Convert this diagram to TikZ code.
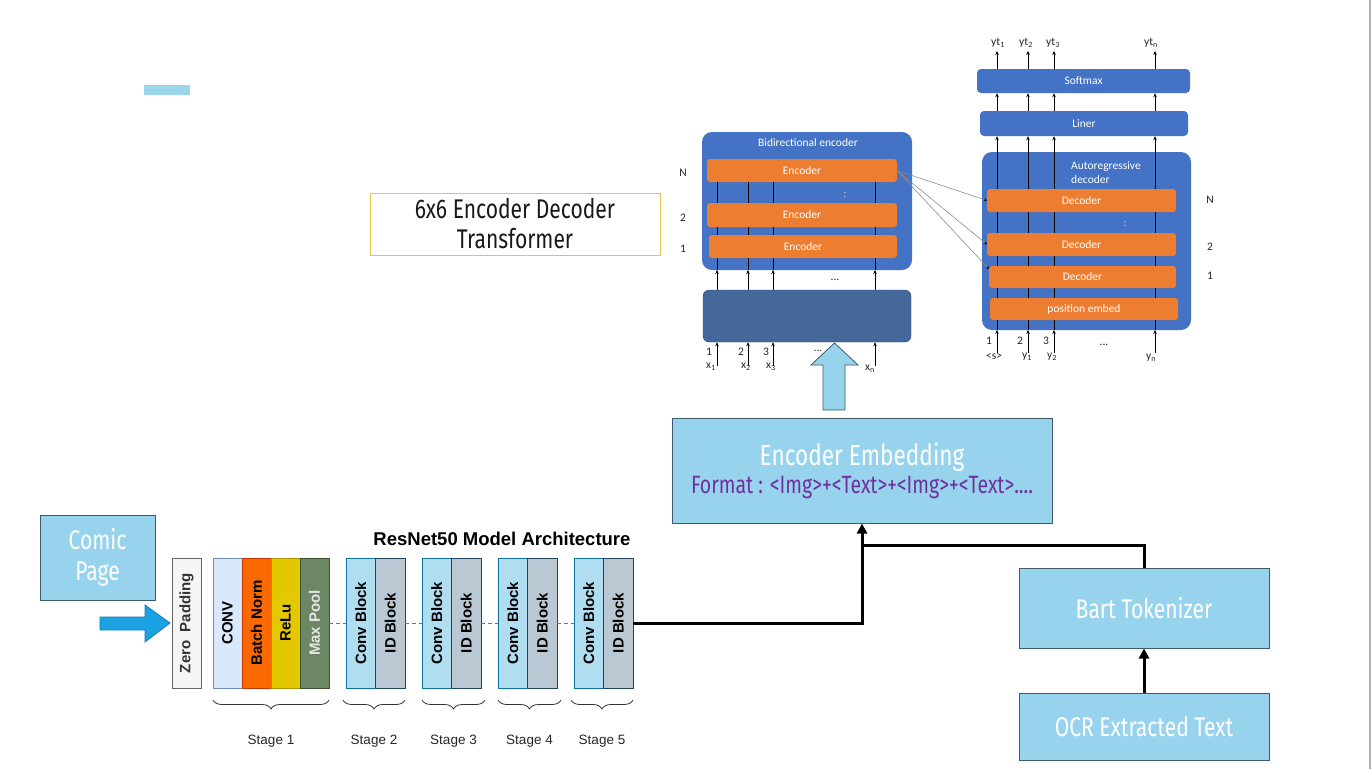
\documentclass[tikz,border=0pt]{standalone}
\usepackage{fontspec}
\usepackage{graphicx}
\setmainfont{Liberation Sans}
\newfontfamily\slidefont[FakeStretch=0.78]{Fira Sans}
\newfontfamily\calfont{Carlito}
\usetikzlibrary{positioning,arrows.meta,decorations.pathreplacing}
\pgfdeclarelayer{bg}
\pgfdeclarelayer{mid}
\pgfsetlayers{bg,mid,main}
\definecolor{skyfill}{HTML}{97D3EC}
\definecolor{skyedge}{HTML}{3E5B6B}
\definecolor{barblue}{HTML}{9BD5EC}
\definecolor{goldedge}{HTML}{E3C54A}
\definecolor{fmtpurple}{HTML}{7030A0}
\definecolor{inblue}{HTML}{1BA1E2}
\definecolor{inedge}{HTML}{157FBC}
\definecolor{convfill}{HTML}{DAE8FC}
\definecolor{convedge}{HTML}{6C8EBF}
\definecolor{bnfill}{HTML}{FA6800}
\definecolor{bnedge}{HTML}{C73500}
\definecolor{relufill}{HTML}{E3C800}
\definecolor{reluedge}{HTML}{B09500}
\definecolor{mpfill}{HTML}{6D8764}
\definecolor{mpedge}{HTML}{3A5431}
\definecolor{cbfill}{HTML}{B1DDF0}
\definecolor{cbedge}{HTML}{10739E}
\definecolor{ibfill}{HTML}{BAC8D3}
\definecolor{ibedge}{HTML}{23445D}
\definecolor{zpfill}{HTML}{F5F5F5}
\definecolor{zpedge}{HTML}{666666}
\definecolor{tblue}{HTML}{4472C4}
\definecolor{torange}{HTML}{ED7D31}
\definecolor{tdark}{HTML}{44689A}
\begin{document}
\begin{tikzpicture}[x=1pt,y=-1pt,
  slidebox/.style={draw=skyedge, fill=skyfill, line width=1pt, inner sep=0pt, text=white, align=center, font=\slidefont\fontsize{27}{31}\selectfont},
  rnbox/.style={draw, line width=0.8pt, inner sep=0pt, outer sep=0pt, minimum width=29pt, minimum height=130pt, font=\bfseries\fontsize{15}{15}\selectfont},
  blk/.style={rnbox, minimum width=29.5pt},
  conn/.style={line width=3pt, -{Triangle[length=10pt,width=10pt]}},
  gapline/.style={draw=black!55, line width=1pt, dash pattern=on 4pt off 3pt},
  stagebrace/.style={decorate, decoration={brace, mirror, amplitude=9pt}, line width=0.8pt, draw=black!80},
  stagelab/.style={below=35pt, inner sep=0pt, font=\fontsize{13.5}{14}\selectfont, text=black!85},
  tblk/.style={fill=tblue, rounded corners=10pt, inner sep=0pt, outer sep=0pt},
  tbar/.style={fill=torange, rounded corners=3pt, inner sep=0pt, outer sep=0pt, text=white, font=\calfont\fontsize{11.5}{12}\selectfont},
  tlab/.style={inner sep=0pt, font=\calfont\fontsize{11.5}{12}\selectfont, text=black!85},
  tarr/.style={line width=0.9pt, -{Stealth[length=4pt,width=3.5pt]}}
]
\useasboundingbox (0,0) rectangle (1372,769);
\begin{pgfonlayer}{bg}
\fill[white] (0,0) rectangle (1372,769);
\end{pgfonlayer}
\draw[black!30, line width=1.5pt] (1370,0) -- (1370,769);

\node[fill=barblue, minimum width=46pt, minimum height=10pt, inner sep=0pt] (bar) at (167,90) {};
\node[draw=goldedge, line width=1pt, minimum width=290pt, minimum height=62pt, inner sep=0pt, align=center, font=\slidefont\fontsize{27}{30}\selectfont, text=black!90] (ttbox) at (515,224) {6x6 Encoder Decoder\\Transformer};

% transformer
\begin{pgfonlayer}{bg}
\node[tblk, minimum width=210pt, minimum height=138pt] (encblk) at (807,201) {};
\node[tblk, minimum width=209pt, minimum height=178pt] (decblk) at (1086.5,241) {};
\end{pgfonlayer}
\node[tlab, text=white] (enctitle) at (808,143) {Bidirectional encoder};
\node[tbar, minimum width=190pt, minimum height=23pt] (encN) at (802,170.5) {Encoder};
\node[tbar, minimum width=190pt, minimum height=24pt] (enc2) at (802,215) {Encoder};
\node[tbar, minimum width=188pt, minimum height=23pt] (enc1) at (803,246.5) {Encoder};
\node[tlab, text=white!60!tblue] (enccolon) at (845,195) {:};
\node[draw=tdark!70!black, fill=tdark, rounded corners=6pt, minimum width=208pt, minimum height=52pt, inner sep=0pt] (dark) at (807,316) {};
\node[tlab] (encdots) at (835,280) {...};
\node[tlab] (lN) at (683,173) {N};
\node[tlab] (l2) at (683,218) {2};
\node[tlab] (l1) at (683,249) {1};
\node[tlab] (i1) at (709,352) {1};
\node[tlab] (i2) at (741,352) {2};
\node[tlab] (i3) at (766,352) {3};
\node[tlab] (idots) at (818,351) {...};
\node[tlab] (x1) at (711,367) {x\textsubscript{1}};
\node[tlab] (x2) at (746,367) {x\textsubscript{2}};
\node[tlab] (x3) at (771,367) {x\textsubscript{3}};
\node[tlab] (xn) at (870,369) {x\textsubscript{n}};

\node[tlab, text=white, anchor=west, align=left, font=\calfont\fontsize{11.5}{14}\selectfont] (dectitle) at (1071,173) {Autoregressive\\decoder};
\node[fill=tblue, rounded corners=4pt, minimum width=213pt, minimum height=24pt, inner sep=0pt, text=white, font=\calfont\fontsize{11.5}{12}\selectfont] (softmax) at (1083.5,81) {Softmax};
\node[fill=tblue, rounded corners=4pt, minimum width=208pt, minimum height=25pt, inner sep=0pt, text=white, font=\calfont\fontsize{11.5}{12}\selectfont] (liner) at (1084,123.5) {Liner};
\node[tbar, minimum width=189pt, minimum height=23pt] (decN) at (1081.5,200.5) {Decoder};
\node[tbar, minimum width=189pt, minimum height=23pt] (dec2) at (1081.5,244.5) {Decoder};
\node[tbar, minimum width=187pt, minimum height=22pt] (dec1) at (1082.5,277) {Decoder};
\node[tbar, minimum width=188pt, minimum height=22pt] (posemb) at (1084,309) {position embed};
\node[tlab, text=white!60!tblue] (deccolon) at (1125,224) {:};
\node[tlab] (rN) at (1210,200) {N};
\node[tlab] (r2) at (1210,247) {2};
\node[tlab] (r1) at (1210,276) {1};
\node[tlab] (j1) at (989,341) {1};
\node[tlab] (j2) at (1020,341) {2};
\node[tlab] (j3) at (1046,341) {3};
\node[tlab] (jdots) at (1104,345) {...};
\node[tlab] (ys) at (994,357) {<s>};
\node[tlab] (y1) at (1027,357) {y\textsubscript{1}};
\node[tlab] (y2) at (1052,357) {y\textsubscript{2}};
\node[tlab] (yn) at (1151,358) {y\textsubscript{n}};
\node[tlab] (yt1) at (998,43) {yt\textsubscript{1}};
\node[tlab] (yt2) at (1026,43) {yt\textsubscript{2}};
\node[tlab] (yt3) at (1053,43) {yt\textsubscript{3}};
\node[tlab] (ytn) at (1151,43) {yt\textsubscript{n}};

\coordinate (e1) at (717,366);
\coordinate (e2) at (748,366);
\coordinate (e3) at (773,366);
\coordinate (e4) at (875,366);
\coordinate (d1) at (997,353);
\coordinate (d2) at (1028,353);
\coordinate (d3) at (1054,353);
\coordinate (d4) at (1155,353);
\coordinate (o1) at (997,51);
\coordinate (o2) at (1028,51);
\coordinate (o3) at (1054,51);
\coordinate (o4) at (1155,51);

\begin{pgfonlayer}{mid}
\foreach \c in {e1,e2,e3,e4}{
  \draw[tarr] (\c) -- (\c |- dark.south);
  \draw[tarr] (\c |- dark.north) -- (\c |- encblk.south);
  \draw[line width=0.9pt] (\c |- encblk.south) -- (\c |- encN.south);
}
\foreach \c/\o in {d1/o1,d2/o2,d3/o3,d4/o4}{
  \draw[tarr] (\c) -- (\c |- decblk.south);
  \draw[line width=0.9pt] (\c |- decblk.south) -- (\c |- decN.south);
  \draw[tarr] (\c |- decN.north) -- (\c |- liner.south);
  \draw[tarr] (\c |- liner.north) -- (\c |- softmax.south);
  \draw[tarr] (\c |- softmax.north) -- (\o);
}
\end{pgfonlayer}
\draw[black!45, line width=0.6pt, -{Stealth[length=3pt,width=3pt,black]}] (encN.east) -- (decN.west);
\draw[black!45, line width=0.6pt, -{Stealth[length=3pt,width=3pt,black]}] (encN.east) -- (dec2.west);
\draw[black!45, line width=0.6pt, -{Stealth[length=3pt,width=3pt,black]}] (encN.east) -- ([yshift=-3pt]dec1.north west);

% embedding
\node[slidebox, minimum width=380pt, minimum height=105pt] (emb) at (862,470.5) {{\fontsize{29}{31}\selectfont Encoder Embedding}\\[-3pt]{\fontsize{25}{26}\selectfont\color{fmtpurple}Format : <Img>+<Text>+<Img>+<Text>....}};
\draw[skyedge, fill=skyfill, line width=0.8pt] (823,410) -- (823,365) -- (811,365) -- (834.5,343) -- (858,365) -- (845,365) -- (845,410) -- cycle;

% resnet
\node[slidebox, minimum width=115pt, minimum height=85pt] (comic) at (97.5,557.5) {Comic\\Page};
\draw[inedge, fill=inblue, line width=0.8pt] (100,617) -- (145,617) -- (145,605) -- (170,623) -- (145,642) -- (145,630) -- (100,630) -- cycle;
\node[font=\bfseries\fontsize{18.5}{20}\selectfont, inner sep=0pt] (rntitle) at (502,539) {ResNet50 Model Architecture};
\node[rnbox, fill=zpfill, draw=zpedge, text=black!80] (zero) at (186.5,623) {\rotatebox{90}{Zero\ \ Padding}};
\node[rnbox, fill=convfill, draw=convedge] (conv1) at (227.5,623) {\rotatebox{90}{CONV}};
\node[rnbox, fill=bnfill, draw=bnedge, right=0pt of conv1] (bn) {\rotatebox{90}{Batch Norm}};
\node[rnbox, fill=relufill, draw=reluedge, right=0pt of bn] (relu) {\rotatebox{90}{ReLu}};
\node[rnbox, fill=mpfill, draw=mpedge, text=white!90!black, right=0pt of relu] (mpool) {\rotatebox{90}{Max Pool}};
\node[blk, fill=cbfill, draw=cbedge, right=17pt of mpool] (cb2) {\rotatebox{90}{Conv Block}};
\node[blk, fill=ibfill, draw=ibedge, right=0pt of cb2] (ib2) {\rotatebox{90}{ID Block}};
\node[blk, fill=cbfill, draw=cbedge, right=17pt of ib2] (cb3) {\rotatebox{90}{Conv Block}};
\node[blk, fill=ibfill, draw=ibedge, right=0pt of cb3] (ib3) {\rotatebox{90}{ID Block}};
\node[blk, fill=cbfill, draw=cbedge, right=17pt of ib3] (cb4) {\rotatebox{90}{Conv Block}};
\node[blk, fill=ibfill, draw=ibedge, right=0pt of cb4] (ib4) {\rotatebox{90}{ID Block}};
\node[blk, fill=cbfill, draw=cbedge, right=17pt of ib4] (cb5) {\rotatebox{90}{Conv Block}};
\node[blk, fill=ibfill, draw=ibedge, right=0pt of cb5] (ib5) {\rotatebox{90}{ID Block}};
\draw[gapline] (mpool.east) -- (cb2.west);
\draw[gapline] (ib2.east) -- (cb3.west);
\draw[gapline] (ib3.east) -- (cb4.west);
\draw[gapline] (ib4.east) -- (cb5.west);

\draw[stagebrace] ([yshift=-12pt]conv1.south west) -- node[stagelab] (st1) {Stage 1} ([yshift=-12pt]mpool.south east);
\draw[stagebrace] ([xshift=-3pt,yshift=-12pt]cb2.south west) -- node[stagelab] (st2) {Stage 2} ([yshift=-12pt]ib2.south east);
\draw[stagebrace] ([yshift=-12pt]cb3.south west) -- node[stagelab] (st3) {Stage 3} ([xshift=4pt,yshift=-12pt]ib3.south east);
\draw[stagebrace] ([yshift=-12pt]cb4.south west) -- node[stagelab] (st4) {Stage 4} ([xshift=4pt,yshift=-12pt]ib4.south east);
\draw[stagebrace] ([xshift=-3pt,yshift=-12pt]cb5.south west) -- node[stagelab] (st5) {Stage 5} ([yshift=-12pt]ib5.south east);

% text branch
\node[slidebox, minimum width=250pt, minimum height=80pt] (bart) at (1144,608) {Bart Tokenizer};
\node[slidebox, minimum width=250pt, minimum height=67pt] (ocr) at (1144,726.5) {OCR Extracted Text};
\coordinate (merge) at (862,545);
\draw[conn] (ib5.east) -| (emb.south);
\draw[line width=3pt] (bart.north) |- (merge);
\draw[conn] (ocr.north) -- (bart.south);
\end{tikzpicture}
\end{document}
